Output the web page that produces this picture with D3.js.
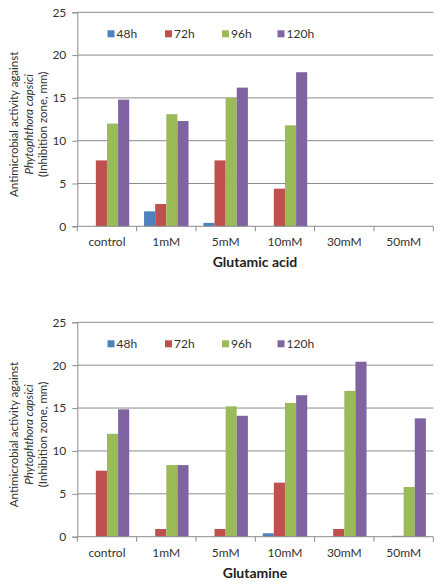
<!DOCTYPE html>
<html>
<head>
<meta charset="utf-8">
<script src="https://cdn.jsdelivr.net/npm/d3@7"></script>
<style>
  html, body { margin: 0; padding: 0; background: #fff; }
  svg { display: block; font-family: Lato, "Open Sans", sans-serif; }
</style>
</head>
<body>
<svg id="chart" width="445" height="587"></svg>
<script>
// ---- data ----
const categories = ["control", "1mM", "5mM", "10mM", "30mM", "50mM"];
const seriesNames = ["48h", "72h", "96h", "120h"];
const seriesColors = ["#4F81BD", "#C0504D", "#9BBB59", "#8064A2"];
const yTicks = [0, 5, 10, 15, 20, 25];

// Glutamic acid
const glutamicAcid48h  = [0, 1.75, 0.4, 0, 0, 0];
const glutamicAcid72h  = [7.7, 2.6, 7.7, 4.4, 0, 0];
const glutamicAcid96h  = [12.0, 13.1, 15.0, 11.8, 0, 0];
const glutamicAcid120h = [14.8, 12.3, 16.2, 18.0, 0, 0];

// Glutamine
const glutamine48h  = [0, 0, 0, 0.4, 0, 0];
const glutamine72h  = [7.7, 0.9, 0.9, 6.3, 0.9, 0.1];
const glutamine96h  = [12.0, 8.35, 15.2, 15.6, 17.0, 5.8];
const glutamine120h = [14.85, 8.35, 14.1, 16.5, 20.4, 13.8];

const panels = [
  { title: "Glutamic acid", series: [glutamicAcid48h, glutamicAcid72h, glutamicAcid96h, glutamicAcid120h], top: 12.3, bottom: 226.3 },
  { title: "Glutamine", series: [glutamine48h, glutamine72h, glutamine96h, glutamine120h], top: 322.3, bottom: 536.7 }
];

const svg = d3.select("#chart");
const left = 77.3, right = 433.3;
const axisColor = "#8c8c8c";
const textColor = "#333";

panels.forEach(p => {
  const g = svg.append("g");
  const y = d3.scaleLinear().domain([0, 25]).range([p.bottom, p.top]);
  const x0 = d3.scaleBand().domain(categories).range([left, right]).paddingInner(0.25).paddingOuter(0.125);
  const x1 = d3.scaleBand().domain(seriesNames).range([0, x0.bandwidth()]);

  // gridlines
  g.append("g").selectAll("line").data(yTicks.filter(t => t > 0)).join("line")
    .attr("x1", left).attr("x2", right)
    .attr("y1", d => y(d)).attr("y2", d => y(d))
    .attr("stroke", axisColor).attr("stroke-width", 1);

  // bars
  const rows = categories.map((c, i) => ({ c, vals: seriesNames.map((s, k) => ({ s, k, v: p.series[k][i] })) }));
  g.append("g").selectAll("g").data(rows).join("g")
    .attr("transform", d => `translate(${x0(d.c)},0)`)
    .selectAll("rect").data(d => d.vals).join("rect")
    .attr("x", d => x1(d.s))
    .attr("width", x1.bandwidth())
    .attr("y", d => y(d.v))
    .attr("height", d => y(0) - y(d.v))
    .attr("fill", d => seriesColors[d.k]);

  // y axis
  const yAxis = d3.axisLeft(y).tickValues(yTicks).tickSize(5).tickPadding(6);
  const ya = g.append("g").attr("transform", `translate(${left},0)`).call(yAxis);
  ya.select(".domain").attr("stroke", axisColor);
  ya.selectAll(".tick line").attr("stroke", axisColor);
  ya.selectAll(".tick text").attr("fill", textColor).style("font-size", "12px").style("font-family", "Lato, sans-serif");

  // x axis (ticks at category boundaries)
  const xa = g.append("g").attr("transform", `translate(0,${p.bottom})`);
  xa.append("line").attr("x1", left).attr("x2", right).attr("y1", 0).attr("y2", 0).attr("stroke", axisColor);
  const bounds = categories.map(c => x0(c) - x0.step() * x0.paddingOuter()).concat([right]);
  xa.selectAll("line.tk").data(bounds).join("line").attr("class", "tk")
    .attr("x1", d => d).attr("x2", d => d).attr("y1", 0).attr("y2", 5).attr("stroke", axisColor);
  xa.selectAll("text").data(categories).join("text")
    .attr("x", d => x0(d) + x0.bandwidth() / 2)
    .attr("y", 20)
    .attr("text-anchor", "middle")
    .attr("fill", textColor)
    .style("font-size", "12px")
    .text(d => d);

  // x title
  g.append("text")
    .attr("x", 255).attr("y", p.bottom + 41)
    .attr("text-anchor", "middle")
    .attr("fill", "#222")
    .style("font-size", "14px").style("font-weight", "bold")
    .text(p.title);

  // y title
  const cy = (p.top + p.bottom) / 2 + 5;
  const yt = g.append("text").attr("transform", `translate(0,${cy}) rotate(-90)`)
    .attr("text-anchor", "middle").attr("fill", textColor).style("font-size", "11.5px");
  yt.append("tspan").attr("x", 0).attr("y", 18).text("Antimicrobial activity against");
  yt.append("tspan").attr("x", 0).attr("y", 33).style("font-style", "italic").text("Phytophthora capsici");
  yt.append("tspan").attr("x", 0).attr("y", 47).text("(Inhibition zone, mm)");

  // legend
  const legX = [107.5, 165, 222, 277.5];
  const lg = g.append("g").attr("transform", `translate(0,${p.top + 21.5})`);
  const items = lg.selectAll("g").data(seriesNames).join("g")
    .attr("transform", (d, i) => `translate(${legX[i]},0)`);
  items.append("rect").attr("x", 0).attr("y", -3.5).attr("width", 7).attr("height", 7)
    .attr("fill", (d, i) => seriesColors[i]);
  items.append("text").attr("x", 9).attr("y", 4.5).attr("fill", textColor)
    .style("font-size", "12px").text(d => d);
});
</script>
</body>
</html>
